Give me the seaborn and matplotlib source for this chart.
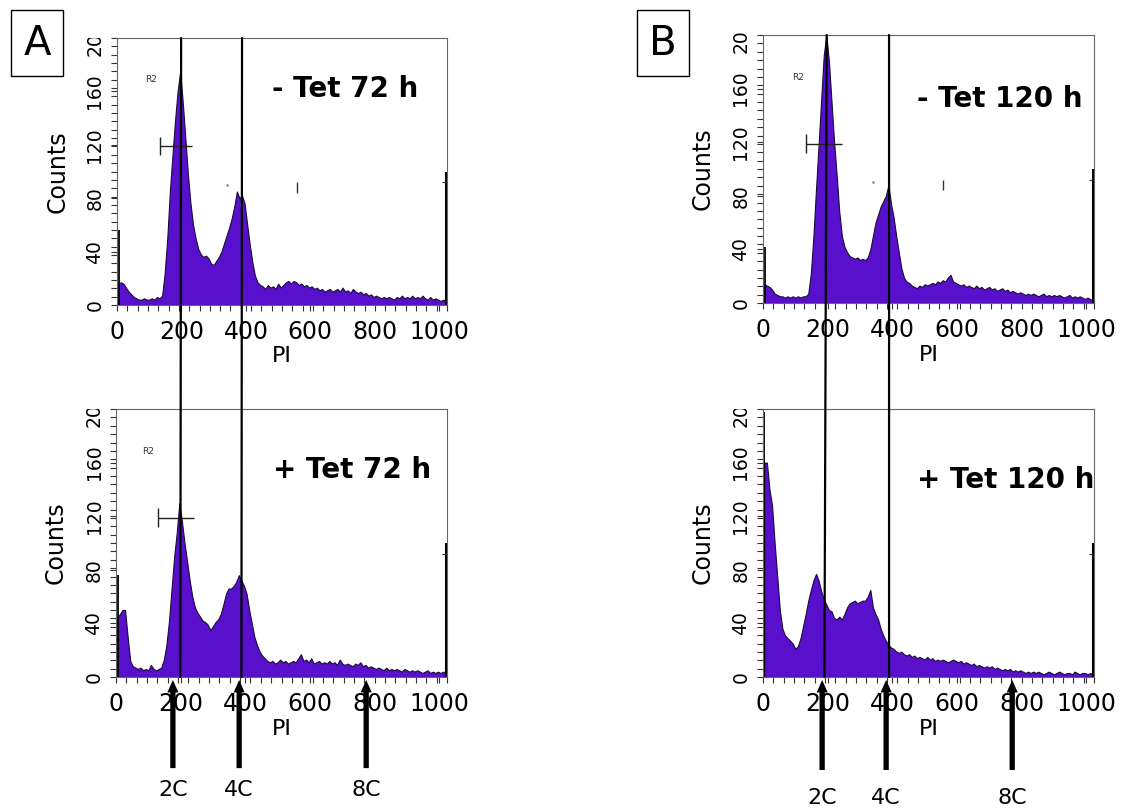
import numpy as np
import pandas as pd
import matplotlib
matplotlib.use("Agg")
import matplotlib.pyplot as plt
import seaborn as sns
from matplotlib.patches import ConnectionPatch, Rectangle
from matplotlib.transforms import Bbox, TransformedBbox
from matplotlib.ticker import MultipleLocator

sns.set_theme(style="ticks")
plt.rcParams['font.family'] = ['DejaVu Sans']
for k in ['text.color', 'axes.labelcolor', 'xtick.color', 'ytick.color']:
    plt.rcParams[k] = 'black'

# ---------------- data (counts per 8-channel PI bin, 0..1024) ----------------
bin_width = 8
counts_a_top = [16, 17, 16, 13, 10, 8, 6, 5, 4, 4, 5, 4, 4, 5, 4, 6,
                5, 7, 24, 50, 85, 112, 138, 160, 175, 152, 125, 98, 76, 60, 50, 42,
                38, 36, 37, 35, 31, 30, 33, 36, 40, 46, 52, 58, 65, 74, 85, 80,
                82, 76, 60, 45, 32, 22, 17, 15, 14, 12, 15, 13, 14, 12, 16, 13,
                15, 17, 18, 16, 18, 17, 15, 16, 14, 15, 13, 14, 12, 13, 11, 12,
                10, 11, 12, 10, 11, 12, 10, 13, 10, 11, 9, 12, 10, 9, 10, 8,
                9, 7, 8, 6, 7, 6, 5, 6, 5, 6, 5, 4, 6, 5, 7, 5,
                6, 5, 7, 5, 6, 5, 7, 5, 4, 6, 4, 5, 4, 3, 4, 3]
counts_a_bot = [44, 47, 50, 50, 30, 12, 8, 7, 6, 7, 5, 6, 5, 9, 6, 5,
                6, 7, 13, 24, 42, 66, 90, 108, 130, 116, 100, 86, 72, 60, 52, 48,
                45, 42, 41, 39, 35, 38, 41, 43, 47, 54, 62, 66, 66, 68, 71, 76,
                72, 68, 62, 50, 40, 30, 24, 19, 16, 14, 12, 11, 12, 10, 11, 13,
                11, 12, 10, 11, 12, 11, 14, 17, 12, 13, 11, 14, 10, 11, 12, 10,
                11, 10, 12, 10, 11, 9, 13, 10, 9, 10, 9, 8, 10, 9, 11, 8,
                9, 7, 8, 7, 6, 7, 6, 5, 7, 5, 6, 5, 6, 5, 4, 6,
                5, 4, 5, 4, 5, 4, 3, 4, 5, 3, 4, 3, 4, 3, 4, 3]
counts_b_top = [14, 13, 12, 10, 7, 6, 5, 5, 4, 5, 4, 5, 4, 5, 4, 5,
                5, 7, 22, 50, 85, 118, 152, 185, 200, 180, 150, 120, 95, 68, 50, 42,
                38, 35, 34, 33, 34, 32, 33, 32, 34, 40, 50, 60, 66, 72, 76, 80,
                88, 74, 64, 50, 38, 26, 19, 16, 15, 13, 12, 11, 13, 12, 14, 13,
                14, 15, 14, 16, 15, 17, 16, 19, 21, 16, 15, 14, 13, 14, 12, 13,
                12, 11, 13, 11, 12, 10, 11, 12, 10, 11, 9, 10, 11, 9, 10, 8,
                9, 8, 7, 8, 7, 6, 7, 6, 7, 6, 5, 6, 7, 5, 6, 5,
                6, 5, 6, 5, 4, 5, 6, 4, 5, 4, 5, 4, 3, 4, 3, 2]
counts_b_bot = [160, 160, 140, 128, 100, 75, 50, 36, 31, 29, 27, 25, 21, 23, 29, 38,
                47, 57, 65, 72, 77, 72, 64, 58, 54, 50, 49, 44, 43, 45, 43, 47,
                52, 55, 56, 57, 55, 56, 57, 57, 60, 65, 52, 47, 43, 36, 31, 27,
                24, 22, 21, 19, 18, 19, 17, 16, 17, 15, 16, 14, 15, 14, 13, 15,
                13, 14, 12, 13, 12, 13, 12, 11, 12, 13, 12, 11, 12, 10, 11, 10,
                9, 10, 8, 9, 8, 7, 8, 7, 8, 6, 7, 6, 5, 6, 5, 6,
                4, 5, 4, 5, 4, 3, 4, 3, 4, 3, 4, 3, 2, 3, 4, 3,
                2, 3, 4, 3, 2, 3, 3, 2, 4, 3, 2, 3, 3, 2, 3, 2]

titles = ["- Tet 72 h", "+ Tet 72 h", "- Tet 120 h", "+ Tet 120 h"]
panel_letters = ["A", "B"]
x_ticks = [0, 200, 400, 600, 800, 1000]
x_tick_labels = ["0", "200", "400", "600", "800", "1000"]
y_ticks = [0, 40, 80, 120, 160, 200]
y_tick_labels = ["0", "40", "80", "120", "160", "200"]
x_label = "PI"
y_label = "Counts"
ploidy_labels = ["2C", "4C", "8C"]
ploidy_pos_a = [176, 381, 774]
ploidy_pos_b = [183, 381, 771]
# reference lines (2C, 4C): position at top panel / bottom panel
ref_lines_a_top = [199, 388]
ref_lines_a_bot = [199, 388]
ref_lines_b_top = [197, 390]
ref_lines_b_bot = [190, 390]
# R2 gate bars: (start, end, level)
gate_a_top = [133, 233, 119]
gate_a_bot = [130, 240, 119]
gate_b_top = [133, 244, 119]
# left edge channel-0 marks (x, height)
left_x_a_top = [1, 6];   left_h_a_top = [97, 56]
left_x_a_bot = [1, 5];   left_h_a_bot = [118, 76]
left_x_b_top = [1, 5];   left_h_b_top = [72, 42]
left_x_b_bot = [2];      left_h_b_bot = [198]

PURPLE = "#5810cc"
EDGE = "#1a0b3c"

W, H = 1128, 811
def rect(l, t, r, b):
    return [l / W, 1 - b / H, (r - l) / W, (b - t) / H]

fig = plt.figure(figsize=(11.28, 8.11), dpi=100)
fig.patch.set_facecolor("white")

panels = [
    dict(counts=counts_a_top, rect=rect(117, 38, 447, 305), title=titles[0],
         tpos=(0.47, 0.779), gate=gate_a_top, r2=(0.085, 0.843),
         lx=left_x_a_top, lh=left_h_a_top, clip_extra=0.0, marks=True),
    dict(counts=counts_a_bot, rect=rect(116, 409, 447, 677), title=titles[1],
         tpos=(0.474, 0.743), gate=gate_a_bot, r2=(0.08, 0.84),
         lx=left_x_a_bot, lh=left_h_a_bot, clip_extra=0.0, marks=False),
    dict(counts=counts_b_top, rect=rect(763, 35, 1094, 303), title=titles[2],
         tpos=(0.465, 0.731), gate=gate_b_top, r2=(0.088, 0.843),
         lx=left_x_b_top, lh=left_h_b_top, clip_extra=0.012, marks=True),
    dict(counts=counts_b_bot, rect=rect(763, 409, 1094, 677), title=titles[3],
         tpos=(0.465, 0.705), gate=None, r2=None,
         lx=left_x_b_bot, lh=left_h_b_bot, clip_extra=0.0, marks=False),
]

centers = [i * bin_width + bin_width / 2 for i in range(len(counts_a_top))]

axes = []
for p in panels:
    ax = fig.add_axes(p["rect"])
    df = pd.DataFrame({"PI": centers, "count": p["counts"]})
    sns.histplot(data=df, x="PI", weights="count", binwidth=bin_width,
                 binrange=(0, 1024), element="poly",
                 fill=True, color=PURPLE, alpha=1, edgecolor=EDGE,
                 linewidth=0.8, ax=ax)
    ax.set_xlim(0, 1024)
    ax.set_ylim(0, 200)
    ax.set_xticks(x_ticks)
    ax.set_xticklabels(x_tick_labels)
    ax.set_yticks(y_ticks)
    ax.set_yticklabels(y_tick_labels)
    ax.xaxis.set_minor_locator(MultipleLocator(32))
    ax.yaxis.set_minor_locator(MultipleLocator(6.25))
    ax.tick_params(which="both", direction="out", length=4, width=0.8,
                   color="#333333", top=False, right=False)
    ax.tick_params(axis="x", labelsize=17, pad=7)
    ax.tick_params(axis="y", labelsize=13.5, pad=5, labelrotation=90)
    for lab in ax.get_yticklabels():
        lab.set_va("center")
    for s in ax.spines.values():
        s.set_visible(True)
        s.set_color("#666666")
        s.set_linewidth(0.8)
    ax.set_xlabel(x_label, fontsize=16)
    ax.set_ylabel(y_label, fontsize=17)
    ax.xaxis.set_label_coords(0.5, -0.155)
    ax.yaxis.set_label_coords(-0.145, 0.5)
    # clip the top tick label like the original scan
    top_tick = ax.yaxis.get_major_ticks()[-1]
    top_tick.label1.set_clip_box(TransformedBbox(
        Bbox([[-1, -1], [2, 1 + p["clip_extra"]]]), ax.transAxes))
    top_tick.label1.set_clip_on(True)

    ax.text(p["tpos"][0], p["tpos"][1], p["title"], transform=ax.transAxes,
            fontsize=20, fontweight="bold", ha="left", va="baseline")
    if p["r2"] is not None:
        ax.text(p["r2"][0], p["r2"][1], "R2", transform=ax.transAxes,
                fontsize=6.5, color="#333333", ha="left", va="center")
    if p["gate"] is not None:
        g0, g1, gy = p["gate"]
        ax.hlines(gy, g0, g1, color="#222222", lw=1.0)
        ax.vlines(g0, gy - 7, gy + 7, color="#222222", lw=1.0)
    ax.vlines(p["lx"], 0, p["lh"], color="black", lw=1.3)
    # right edge marker
    ax.vlines(1021, 0, 100, color="black", lw=1.5)
    ax.hlines(92, 1010, 1021, color="#333333", lw=0.8)
    if p["marks"]:
        ax.vlines(557, 84, 92, color="#333333", lw=1.0)
        ax.plot([340], [90], marker=".", ms=1.5, color="#777777")
    axes.append(ax)

ax_at, ax_ab, ax_bt, ax_bb = axes

# vertical 2C/4C reference lines spanning both panels
for top_ax, bot_ax, xs_top, xs_bot in [(ax_at, ax_ab, ref_lines_a_top, ref_lines_a_bot),
                                       (ax_bt, ax_bb, ref_lines_b_top, ref_lines_b_bot)]:
    for xt, xb in zip(xs_top, xs_bot):
        cp = ConnectionPatch(xyA=(xt, 200), coordsA=top_ax.transData,
                             xyB=(xb, 0), coordsB=bot_ax.transData,
                             color="black", lw=1.6)
        fig.add_artist(cp)

# arrows with ploidy labels
for ax, xs, tail, ly in [(ax_ab, ploidy_pos_a, -0.34, -0.42),
                          (ax_bb, ploidy_pos_b, -0.347, -0.45)]:
    for x, lab in zip(xs, ploidy_labels):
        ax.annotate("", xy=(x, -0.011), xycoords=("data", "axes fraction"),
                    xytext=(x, tail), textcoords=("data", "axes fraction"),
                    arrowprops=dict(arrowstyle="simple,head_length=0.9,head_width=0.8,tail_width=0.38",
                                    mutation_scale=10, color="black", lw=0,
                                    shrinkA=0, shrinkB=0),
                    annotation_clip=False)
        ax.text(x, ly, lab, transform=ax.get_xaxis_transform(), fontsize=16,
                ha="center", va="center", clip_on=False)

# panel letter boxes
for letter, (l, t, r, b), (cx, cy) in [("A", (11, 10, 63, 76), (37, 44)),
                                       ("B", (637, 10, 689, 76), (663, 44))]:
    fig.add_artist(Rectangle((l / W, 1 - b / H), (r - l) / W, (b - t) / H,
                             transform=fig.transFigure, fill=False,
                             ec="black", lw=1.0))
    fig.text(cx / W, 1 - cy / H, letter, fontsize=29, ha="center", va="center")

fig.savefig("out.png", dpi=100, facecolor="white")
